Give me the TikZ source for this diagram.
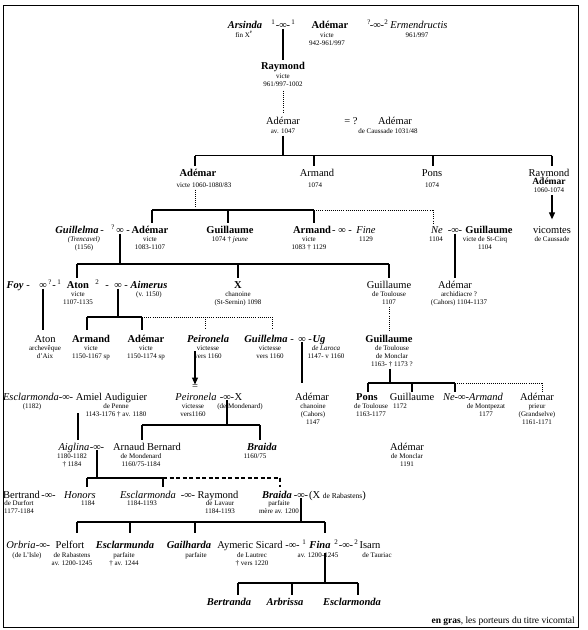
\documentclass[tikz,border=0pt]{standalone}
\usepackage{fontspec}
\setmainfont{Liberation Serif}
\usetikzlibrary{arrows.meta}
\newcommand\stk[1]{\begin{tabular}[t]{@{}c@{}}#1\end{tabular}}
% id, x, name baseline, name, sub x, sub baseline, sub lines
\newcommand\pers[7]{%
  \node[nm] (#1) at (#2,-#3) {#4};
  \node[sb] (#1s) at (#5,-#6) {\stk{#7}};}
\begin{document}
\begin{tikzpicture}[x=1pt,y=1pt,
  nm/.style={font=\fontsize{10.5}{12}\selectfont, inner sep=0pt, anchor=base},
  sb/.style={font=\fontsize{7}{8}\selectfont, inner sep=0pt, anchor=base},
  ln/.style={line width=1.1pt},
  dl/.style={line width=0.9pt, dash pattern=on 0.9pt off 1.2pt},
  dsh/.style={line width=1.1pt, dash pattern=on 4pt off 2.5pt},
  tip/.style={-{Triangle[width=6pt,length=7pt]}}]
\useasboundingbox (0,0) rectangle (588,-630);
\draw[line width=1pt] (3,-5) rectangle (578,-627);

% ---------- row 1
\pers{arsinda}{245}{28.5}{\textbf{\textit{Arsinda}}}{244}{37}{fin X\textsuperscript{e}}
\node[sb] (s1a) at (273,-24) {1};
\node[nm] (m1) at (283,-28.5) {-∞-};
\node[sb] (s1b) at (293,-24) {1};
\pers{ademar1}{330}{28.5}{\textbf{Adémar}}{327}{37}{victe\\942-961/997}
\node[sb] (s1c) at (369,-24) {?};
\node[nm] (m2) at (377,-28.5) {-∞-};
\node[sb] (s1d) at (386,-24) {2};
\pers{ermen}{419}{28.5}{\textit{Ermendructis}}{417}{37}{961/997}

% ---------- row 2
\pers{raymond1}{283}{69.5}{\textbf{Raymond}}{283}{78}{victe\\961/997-1002}

% ---------- row 3
\pers{ademar2}{283}{124.5}{Adémar}{283}{133}{av. 1047}
\node[nm] (eqq) at (351,-124.5) {= ?};
\pers{ademar3}{395}{124.5}{Adémar}{388}{133}{de Caussade 1031/48}

% ---------- row 4
\pers{ademar4}{198}{176.5}{\textbf{Adémar}}{204}{187}{victe 1060-1080/83}
\pers{armand1}{317}{176.5}{Armand}{315}{187}{1074}
\pers{pons1}{432}{176.5}{Pons}{432}{187}{1074}
\node[nm] (raymond2) at (549,-176) {Raymond};
\node[nm, font=\fontsize{9.5}{11}\selectfont\bfseries] (raymond2b) at (549,-184.5) {Adémar};
\node[sb] (raymond2s) at (549,-192.5) {\stk{1060-1074}};

% ---------- row 5
\pers{guillelma1}{77}{233.5}{\textbf{\textit{Guillelma}}}{84}{241.5}{\textit{(Trencavel)}\\(1156)}
\node[nm] (m3l) at (102,-233.5) {-};
\node[sb] (s3) at (113,-229) {?};
\node[nm] (m3) at (120,-233.5) {∞};
\node[nm] (m3r) at (128,-233.5) {-};
\pers{ademar5}{150}{233.5}{\textbf{Adémar}}{150}{241.5}{victe\\1083-1107}
\pers{guillaume1}{230}{233.5}{\textbf{Guillaume}}{230}{241.5}{1074 † \textit{jeune}}
\pers{armand2}{312}{233.5}{\textbf{Armand}}{309}{241.5}{victe\\1083 † 1129}
\node[nm] (m4a) at (342,-233.5) {- ∞ -};
\pers{fine}{366}{233.5}{\textit{Fine}}{366}{241.5}{1129}
\pers{ne1}{437}{233.5}{\textit{Ne}}{436}{241.5}{1104}
\node[nm] (m4) at (455,-233.5) {-∞-};
\pers{guillaume2}{489}{233.5}{\textbf{Guillaume}}{485}{241.5}{victe de St-Cirq\\1104}
\pers{vicomtes}{552}{233.5}{vicomtes}{552}{241.5}{de Caussade}

% ---------- row 6
\node[nm] (foy) at (15,-288.5) {\textbf{\textit{Foy}}};
\node[nm] (m5l) at (28,-288.5) {-};
\node[nm] (m5) at (43,-288.5) {∞};
\node[sb] (s5a) at (50,-284) {?};
\node[nm] (m5r) at (54,-288.5) {-};
\node[sb] (s5b) at (59,-284) {1};
\pers{aton1}{78}{288.5}{\textbf{Aton}}{78}{296.5}{victe\\1107-1135}
\node[sb] (s6) at (97,-284) {2};
\node[nm] (m6l) at (107,-288.5) {-};
\node[nm] (m6) at (118,-288.5) {∞};
\node[nm] (m6r) at (126,-288.5) {-};
\pers{aimerus}{149}{288.5}{\textbf{\textit{Aimerus}}}{149}{296.5}{(v. 1150)}
\pers{x1}{238}{288.5}{\textbf{X}}{238}{296.5}{chanoine\\(St-Sernin) 1098}
\pers{guillaume3}{389}{288.5}{Guillaume}{389}{296.5}{de Toulouse\\1107}
\pers{ademar6}{455}{288.5}{Adémar}{459}{296.5}{archidiacre ?\\(Cahors) 1104-1137}

% ---------- row 7
\pers{aton2}{45}{342}{Aton}{45}{350}{archevêque\\d'Aix}
\pers{armand3}{91}{342}{\textbf{Armand}}{91}{350}{victe\\1150-1167 sp}
\pers{ademar7}{146}{342}{\textbf{Adémar}}{146}{350}{victe\\1150-1174 sp}
\pers{peironela1}{208}{342}{\textbf{\textit{Peironela}}}{208}{350}{victesse\\vers 1160}
\pers{guillelma2}{266}{342}{\textbf{\textit{Guillelma}}}{270}{350}{victesse\\vers 1160}
\node[nm] (m7l) at (292,-342) {-};
\node[nm] (m7) at (302,-342) {∞};
\node[nm] (m7r) at (310,-342) {-};
\pers{ug}{319}{342}{\textbf{\textit{Ug}}}{326}{350}{\textit{de Laroca}\\1147- v 1160}
\pers{guillaume4}{389}{342}{\textbf{Guillaume}}{392}{350}{de Toulouse\\de Monclar\\1163- † 1173 ?}

% ---------- row 8
\pers{esclarm1}{31}{400}{\textit{Esclarmonda}}{32}{408}{(1182)}
\node[nm] (m8) at (66,-400) {-∞-};
\pers{amiel}{111.5}{400}{Amiel Audiguier}{116}{408}{de Penne\\1143-1176 † av. 1180}
\node[nm] (eq2) at (195,-389.5) {=};
\pers{peironela2}{196}{400}{\textit{Peironela}}{193}{408}{victesse\\vers1160}
\node[nm] (m9) at (227,-400) {-∞-};
\node[nm] (x2) at (238.5,-400) {X};
\node[sb] (x2s) at (240,-408) {\stk{(de Mondenard)}};
\pers{ademar8}{312}{400}{Adémar}{313}{408}{chanoine\\(Cahors)\\1147}
\pers{pons2}{367}{400}{\textbf{Pons}}{371}{408}{de Toulouse\\1163-1177}
\pers{guillaume5}{412}{400}{Guillaume}{400}{408}{1172}
\pers{nearm}{473}{400}{\textit{Ne-∞-Armand}}{486}{408}{de Montpezat\\1177}
\pers{ademar9}{537}{400}{Adémar}{537}{408}{prieur\\(Grandselve)\\1161-1171}

% ---------- row 9
\pers{aiglina}{74}{450}{\textit{Aiglina}}{72}{458}{1180-1182\\† 1184}
\node[nm] (m10) at (97,-450) {-∞-};
\pers{arnaud}{147}{450}{Arnaud Bernard}{141}{458}{de Mondenard\\1160/75-1184}
\pers{braida1}{262}{450}{\textbf{\textit{Braida}}}{255}{458}{1160/75}
\pers{ademar10}{407}{450}{Adémar}{407}{458}{de Monclar\\1191}

% ---------- row 10
\pers{bertrand}{21.5}{498}{Bertrand}{19}{505}{de Durfort\\1177-1184}
\node[nm] (m11) at (48.5,-498) {-∞-};
\pers{honors}{80}{498}{\textit{Honors}}{88}{505}{1184}
\pers{esclarm2}{148}{498}{\textit{Esclarmonda}}{142}{505}{1184-1193}
\node[nm] (m12) at (188,-498) {-∞-};
\pers{raymond3}{218}{498}{Raymond}{220}{505}{de Lavaur\\1184-1193}
\pers{braida2}{277}{498}{\textbf{\textit{Braida}}}{279}{505}{parfaite\\mère av. 1200}
\node[nm] (m13) at (301,-498) {-∞-};
\node[nm, anchor=base west] (xrab) at (309,-498) {(X {\fontsize{7.5}{9}\selectfont de Rabastens})};

% ---------- row 11
\pers{orbria}{21}{548.5}{\textit{Orbria}}{27}{557}{(de L'Isle)}
\node[nm] (m14) at (43,-548.5) {-∞-};
\pers{pelfort}{70}{548.5}{Pelfort}{72}{557}{de Rabastens\\av. 1200-1245}
\pers{esclarmunda}{125}{548.5}{\textbf{\textit{Esclarmunda}}}{124}{557}{parfaite\\† av. 1244}
\pers{gailharda}{189}{548.5}{\textbf{\textit{Gailharda}}}{196}{557}{parfaite}
\pers{aymeric}{250}{548.5}{Aymeric Sicard}{252}{557}{de Lautrec\\† vers 1220}
\node[nm] (m15) at (292.5,-548.5) {-∞-};
\node[sb] (s15) at (304,-544) {1};
\pers{fina}{320}{548.5}{\textbf{\textit{Fina}}}{318}{557}{av. 1200-1245}
\node[sb] (s16a) at (336,-544) {2};
\node[nm] (m16) at (346,-548.5) {-∞-};
\node[sb] (s16b) at (356,-544) {2};
\pers{isarn}{370}{548.5}{Isarn}{377}{557}{de Tauriac}

% ---------- row 12
\node[nm] (bertranda) at (229,-605) {\textbf{\textit{Bertranda}}};
\node[nm] (arbrissa) at (285,-605) {\textbf{\textit{Arbrissa}}};
\node[nm] (esclarm3) at (352,-605) {\textbf{\textit{Esclarmonda}}};

\node[nm, anchor=base east, font=\fontsize{9.5}{11}\selectfont] (legend) at (575,-623)
  {\textbf{en gras}, les porteurs du titre vicomtal};

% ================= connectors
\draw[ln, shorten >=2pt] (m1.south) -- (raymond1.north);
\draw[dl, shorten <=2pt, shorten >=4pt] (raymond1s.south) -- (ademar2.north);

\coordinate (b1m) at (283,-155.5);
\coordinate (b1a) at (195,-155.5);
\coordinate (b1b) at (314,-155.5);
\coordinate (b1c) at (433,-155.5);
\coordinate (b1d) at (552,-155.5);
\draw[ln] (ademar2s.south) -- (b1m);
\draw[ln] (b1a) -- (b1d);
\draw[ln, shorten >=3pt] (b1a) -- (b1a |- ademar4.north);
\draw[ln, shorten >=3pt] (b1b) -- (b1b |- armand1.north);
\draw[ln, shorten >=3pt] (b1c) -- (b1c |- pons1.north);
\draw[ln, shorten >=3pt] (b1d) -- (b1d |- raymond2.north);
\draw[ln, tip, shorten >=7pt] (b1d |- raymond2s.south) -- (b1d |- vicomtes.north);

\coordinate (b2x) at (195,-210);
\coordinate (b2a) at (152,-210);
\coordinate (b2b) at (228,-210);
\coordinate (b2c) at (314,-210);
\coordinate (b2d) at (433,-210);
\draw[dl] (b2x |- ademar4s.south) -- (b2x);
\draw[ln] (b2a) -- (b2c);
\draw[dl] (b2c) -- (b2d);
\draw[ln, shorten >=3pt] (b2a) -- (b2a |- ademar5.north);
\draw[ln, shorten >=3pt] (b2b) -- (b2b |- guillaume1.north);
\draw[ln, shorten >=3pt] (b2c) -- (b2c |- armand2.north);
\draw[dl, shorten >=3pt] (b2d) -- (b2d |- ne1.north);

\coordinate (b3a) at (77,-264);
\coordinate (b3b) at (238,-264);
\coordinate (b3c) at (389,-264);
\draw[ln] (m3.south) -- (m3.south |- b3a);
\draw[ln] (b3a) -- (b3c);
\draw[ln, shorten >=3pt] (b3a) -- (b3a |- aton1.north);
\draw[ln, shorten >=3pt] (b3b) -- (b3b |- x1.north);
\draw[ln, shorten >=3pt] (b3c) -- (b3c |- guillaume3.north);
\draw[ln, shorten >=3pt] (m4.south) -- (m4.south |- ademar6.north);

\draw[ln, shorten >=5pt] (m5.south) -- (m5.south |- aton2.north);
\coordinate (b4a) at (87,-317);
\coordinate (b4b) at (142,-317);
\coordinate (b4c) at (205,-317);
\coordinate (b4d) at (272,-317);
\draw[ln] (m6.south) -- (m6.south |- b4a);
\draw[ln] (b4a) -- (b4b);
\draw[dl] (b4b) -- (b4d);
\draw[ln, shorten >=5pt] (b4a) -- (b4a |- armand3.north);
\draw[ln, shorten >=5pt] (b4b) -- (b4b |- ademar7.north);
\draw[dl, shorten >=5pt] (b4c) -- (b4c |- peironela1.north);
\draw[dl, shorten >=5pt] (b4d) -- (b4d |- guillelma2.north);
\draw[dl, shorten >=4pt] (b3c |- guillaume3s.south) -- (b3c |- guillaume4.north);

\draw[ln, shorten >=10pt] (m7.south) -- (m7.south |- ademar8.north);
\draw[ln, tip, shorten <=9pt] (eq2 |- peironela1.south) -- (eq2.north);

\coordinate (b5g) at (390,-383);
\coordinate (b5a) at (368,-383);
\coordinate (b5b) at (412,-383);
\coordinate (b5c) at (455,-383);
\coordinate (b5d) at (542,-383);
\draw[ln] (b5g |- guillaume4s.south) -- (b5g);
\draw[ln] (b5a) -- (b5c);
\draw[dl] (b5c) -- (b5d);
\draw[ln, shorten >=1pt] (b5a) -- (b5a |- pons2.north);
\draw[ln, shorten >=1pt] (b5b) -- (b5b |- guillaume5.north);
\draw[ln, shorten >=1pt] (b5c) -- (b5c |- nearm.north);
\draw[dl, shorten >=1pt] (b5d) -- (b5d |- ademar9.north);

\coordinate (c8) at (78,-413);
\draw[ln, shorten >=3pt] (c8) -- (c8 |- aiglina.north);

\coordinate (b6a) at (142,-425);
\coordinate (b6b) at (260,-425);
\draw[ln] (m9.south) -- (m9.south |- b6a);
\draw[ln] (b6a) -- (b6b);
\draw[ln, shorten >=3pt] (b6a) -- (b6a |- arnaud.north);
\draw[ln, shorten >=3pt] (b6b) -- (b6b |- braida1.north);

\coordinate (b7a) at (87,-478);
\coordinate (b7b) at (163,-478);
\coordinate (b7c) at (280,-478);
\draw[ln] (m10.south) -- (m10.south |- b7a);
\draw[ln] (b7a) -- (b7b);
\draw[dsh] (b7b) -- (b7c);
\draw[ln, shorten >=4pt] (b7a) -- (b7a |- honors.north);
\draw[ln, shorten >=4pt] (b7b) -- (b7b |- esclarm2.north);
\draw[dsh, shorten >=4pt] (b7c) -- (b7c |- braida2.north);

\coordinate (b8a) at (77,-522);
\coordinate (b8b) at (130,-522);
\coordinate (b8c) at (195,-522);
\coordinate (b8d) at (325,-522);
\draw[ln] (m13.south) -- (m13.south |- b8a);
\draw[ln] (b8a) -- (b8d);
\draw[ln, shorten >=8pt] (b8a) -- (b8a |- pelfort.north);
\draw[ln, shorten >=8pt] (b8b) -- (b8b |- esclarmunda.north);
\draw[ln, shorten >=8pt] (b8c) -- (b8c |- gailharda.north);
\draw[ln, shorten >=8pt] (b8d) -- (b8d |- fina.north);

\coordinate (b9m) at (325,-583);
\coordinate (b9a) at (238,-583);
\coordinate (b9b) at (292,-583);
\coordinate (b9c) at (358,-583);
\draw[ln, shorten <=4pt] (b9m |- fina.south) -- (b9m);
\draw[ln] (b9a) -- (b9c);
\draw[ln, shorten >=3pt] (b9a) -- (b9a |- bertranda.north);
\draw[ln, shorten >=3pt] (b9b) -- (b9b |- arbrissa.north);
\draw[ln, shorten >=3pt] (b9c) -- (b9c |- esclarm3.north);
\end{tikzpicture}
\end{document}
